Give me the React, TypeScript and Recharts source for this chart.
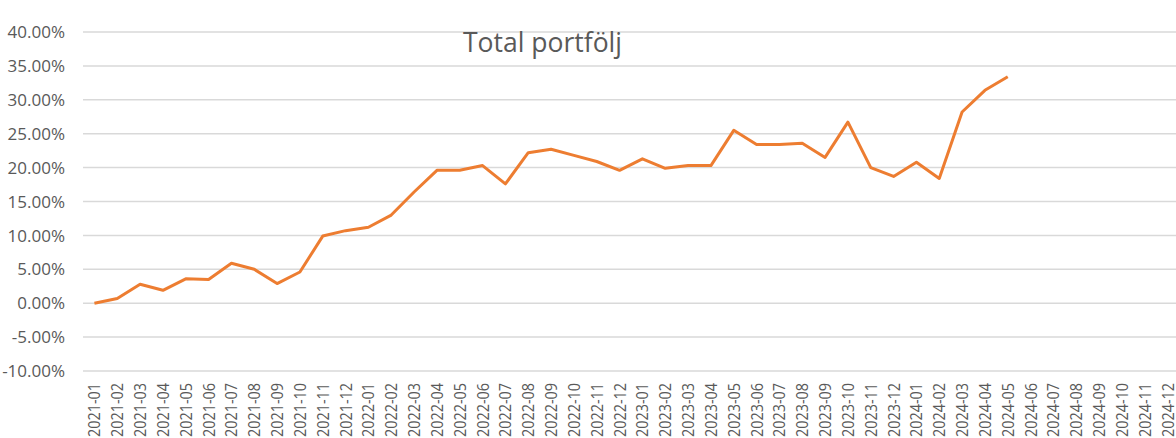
import React from "react";
import { LineChart, Line, XAxis, YAxis, CartesianGrid } from "recharts";

const categories: string[] = [
  "2021-01","2021-02","2021-03","2021-04","2021-05","2021-06","2021-07","2021-08","2021-09","2021-10","2021-11","2021-12",
  "2022-01","2022-02","2022-03","2022-04","2022-05","2022-06","2022-07","2022-08","2022-09","2022-10","2022-11","2022-12",
  "2023-01","2023-02","2023-03","2023-04","2023-05","2023-06","2023-07","2023-08","2023-09","2023-10","2023-11","2023-12",
  "2024-01","2024-02","2024-03","2024-04","2024-05","2024-06","2024-07","2024-08","2024-09","2024-10","2024-11","2024-12",
];

const totalValues: number[] = [
  0.0, 0.7, 2.8, 1.9, 3.6, 3.5, 5.9, 5.0, 2.9, 4.6, 9.9, 10.7,
  11.2, 13.0, 16.4, 19.6, 19.6, 20.3, 17.6, 22.2, 22.7, 21.8, 20.9, 19.6,
  21.3, 19.9, 20.3, 20.3, 25.5, 23.4, 23.4, 23.6, 21.5, 26.7, 20.0, 18.7,
  20.8, 18.4, 28.2, 31.4, 33.4,
];

const yTicks: number[] = [-10, -5, 0, 5, 10, 15, 20, 25, 30, 35, 40];

const title = "Total portfölj";

const data = categories.map((c, i) => ({
  month: c,
  total: i < totalValues.length ? totalValues[i] : null,
}));

const FONT = "'Open Sans', 'DejaVu Sans', sans-serif";
const TEXT = "#595959";

const XTick = (props: any) => {
  const { x, y, payload } = props;
  return (
    <text
      x={0}
      y={0}
      transform={`translate(${x + 6}, ${y + 4}) rotate(-90)`}
      textAnchor="end"
      fontSize={16.5}
      fontFamily={FONT}
      fill={TEXT}
      textLength={54}
      lengthAdjust="spacingAndGlyphs"
    >
      {payload.value}
    </text>
  );
};

const YTick = (props: any) => {
  const { y, payload } = props;
  return (
    <text
      x={65}
      y={y}
      dy="0.36em"
      textAnchor="end"
      fontSize={17}
      fontFamily={FONT}
      fill={TEXT}
    >
      {`${payload.value.toFixed(2)}%`}
    </text>
  );
};

export default function App() {
  return (
    <div
      style={{
        position: "absolute",
        left: 0,
        top: 0,
        width: 1176,
        height: 438,
        overflow: "hidden",
        background: "#ffffff",
      }}
    >
      <LineChart
        width={1180}
        height={438}
        data={data}
        margin={{ top: 32, right: 1, left: 0, bottom: 0 }}
      >
        <CartesianGrid horizontal vertical={false} stroke="#d9d9d9" strokeWidth={1.5} />
        <XAxis
          dataKey="month"
          scale="band"
          interval={0}
          axisLine={false}
          tickLine={false}
          height={67}
          tick={<XTick />}
        />
        <YAxis
          type="number"
          domain={[-10, 40]}
          ticks={yTicks}
          interval={0}
          axisLine={false}
          tickLine={false}
          width={83}
          tick={<YTick />}
        />
        <Line
          type="linear"
          dataKey="total"
          stroke="#ED7D31"
          strokeWidth={3}
          dot={false}
          activeDot={false}
          connectNulls={false}
          isAnimationActive={false}
          strokeLinejoin="round"
        />
        <text x={463} y={52} fontSize={26.5} fontFamily={FONT} fill={TEXT}>
          {title}
        </text>
      </LineChart>
    </div>
  );
}
